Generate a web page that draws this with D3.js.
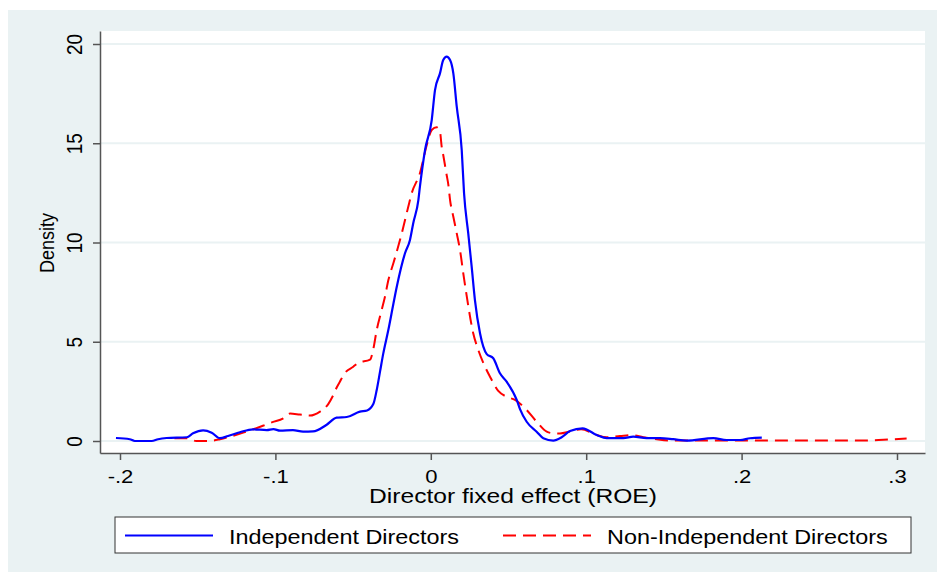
<!DOCTYPE html>
<html>
<head>
<meta charset="utf-8">
<script src="https://cdn.jsdelivr.net/npm/d3@7"></script>
<style>
  body { margin: 0; background: #fff; }
  text { font-family: "Liberation Sans", Arial, sans-serif; fill: #000; }
</style>
</head>
<body>
<div id="graf"></div>
<script>
// datos: [efecto fijo, densidad]
const independientes = [
  [-0.2026,0.15],[-0.1937,0.09],[-0.1905,0],[-0.1796,0],[-0.1755,0.09],[-0.170,0.15],
  [-0.157,0.19],[-0.153,0.39],[-0.1465,0.54],[-0.141,0.42],[-0.1357,0.14],[-0.1305,0.25],
  [-0.1228,0.44],[-0.1144,0.59],[-0.1056,0.55],[-0.1013,0.60],[-0.097,0.52],[-0.0887,0.55],
  [-0.0822,0.47],[-0.0758,0.48],[-0.067,0.82],[-0.0606,1.18],[-0.0541,1.21],[-0.0456,1.48],
  [-0.041,1.54],[-0.037,1.86],[-0.0348,2.57],[-0.0327,3.48],[-0.0306,4.4],[-0.0273,5.6],
  [-0.0241,6.9],[-0.0219,7.77],[-0.0166,9.46],[-0.0134,10.13],[-0.0113,10.97],[-0.008,12.14],
  [-0.007,12.81],[-0.0037,14.66],[0.0006,16.17],[0.0027,17.68],[0.0059,18.52],[0.008,19.19],
  [0.0102,19.36],[0.0124,19.19],[0.0145,18.52],[0.0167,16.84],[0.0199,14.66],[0.0214,12.48],
  [0.0241,10.46],[0.0263,8.78],[0.0284,7.1],[0.0317,5.42],[0.036,4.38],[0.0402,4.17],
  [0.0445,3.41],[0.0488,2.99],[0.0553,2.07],[0.0574,1.61],[0.0617,0.97],[0.0681,0.47],
  [0.0724,0.14],[0.0788,0.02],[0.0842,0.19],[0.0896,0.50],[0.0977,0.64],[0.1068,0.30],
  [0.1132,0.14],[0.1239,0.14],[0.1303,0.22],[0.1389,0.14],[0.1475,0.14],[0.156,0.09],
  [0.1647,0.02],[0.1818,0.14],[0.1904,0.05],[0.199,0.05],[0.2054,0.14],[0.213,0.17]
]

const noIndependientes = [
  [-0.165,0.14],[-0.157,0.14],[-0.151,0],[-0.144,0],[-0.140,0.02],[-0.1357,0.09],
  [-0.1292,0.22],[-0.1207,0.42],[-0.1142,0.59],[-0.1019,0.95],[-0.0949,1.14],[-0.0906,1.38],
  [-0.0842,1.33],[-0.0778,1.28],[-0.0713,1.48],[-0.066,1.86],[-0.0627,2.32],[-0.0604,2.72],
  [-0.0585,2.99],[-0.0552,3.43],[-0.0499,3.74],[-0.0468,3.93],[-0.0391,4.10],[-0.037,4.63],
  [-0.0348,5.59],[-0.0316,6.60],[-0.0295,7.27],[-0.0273,8.11],[-0.0241,8.95],[-0.0187,10.46],
  [-0.0145,11.80],[-0.0123,12.48],[-0.007,13.49],[-0.0026,14.91],[0.0006,15.67],[0.0038,15.80],
  [0.0059,15.58],[0.007,14.83],[0.008,14.41],[0.0102,13.40],[0.0113,12.90],[0.0124,12.14],
  [0.0145,11.30],[0.0167,10.46],[0.0188,9.62],[0.0209,8.45],[0.023,7.36],[0.0273,5.43],
  [0.0306,4.58],[0.0349,3.74],[0.0381,3.24],[0.0434,2.52],[0.0488,2.23],[0.0542,2.07],
  [0.0617,1.56],[0.0681,0.97],[0.0746,0.47],[0.0788,0.39],[0.0831,0.38],[0.0896,0.48],
  [0.0967,0.59],[0.1068,0.30],[0.1132,0.19],[0.1217,0.25],[0.1293,0.30],[0.1367,0.19],
  [0.1454,0.09],[0.156,0.02],[0.2,0.02],[0.25,0.02],[0.2805,0.02],[0.2976,0.09],[0.3062,0.12]
]

const yTicks = [0, 5, 10, 15, 20]
const xTicks = [-0.2, -0.1, 0, 0.1, 0.2, 0.3]
const xTickLabels = ["-.2", "-.1", "0", ".1", ".2", ".3"]
const leyenda = ["Independent Directors", "Non-Independent Directors"]

// dimensiones
const anchoTotal = 937
const altoTotal = 572
const margins = { top: 31, right: 12, bottom: 119, left: 100 }
const ancho = anchoTotal - margins.left - margins.right
const alto = altoTotal - margins.top - margins.bottom
const estirar = 1.16   // el original esta estirado en horizontal

const svg = d3.select("#graf")
  .append("svg")
  .attr("width", anchoTotal)
  .attr("height", altoTotal)

// fondo del grafico
svg.append("rect")
  .attr("x", 8).attr("y", 10)
  .attr("width", anchoTotal - 8).attr("height", altoTotal - 10)
  .attr("fill", "#eaf2f3")

svg.append("rect")
  .attr("x", margins.left).attr("y", margins.top)
  .attr("width", ancho).attr("height", alto)
  .attr("fill", "#fff")

const g = svg.append("g")
  .attr("transform", `translate(${margins.left}, ${margins.top})`)

// escaladores
const x = d3.scaleLinear()
  .domain([-0.21287, 0.31802])
  .range([0, ancho])

const y = d3.scaleLinear()
  .domain([-0.6045, 20.655])
  .range([alto, 0])

// lineas de rejilla
g.selectAll(".grid")
  .data(yTicks)
  .enter()
  .append("line")
  .attr("x1", 0).attr("x2", ancho)
  .attr("y1", d => y(d)).attr("y2", d => y(d))
  .attr("stroke", "#eaf2f3")
  .attr("stroke-width", 2)

// ejes
const yAxisGroup = g.append("g")
  .call(d3.axisLeft(y).tickValues(yTicks).tickSize(7).tickSizeOuter(0))
yAxisGroup.selectAll("text")
  .attr("x", null).attr("dy", null)
  .attr("transform", `translate(-18,0) scale(${estirar},1) rotate(-90)`)
  .attr("text-anchor", "middle")
  .style("font-size", "19px")

const xAxisGroup = g.append("g")
  .attr("transform", `translate(0, ${alto})`)
  .call(d3.axisBottom(x).tickValues(xTicks).tickSize(7).tickSizeOuter(0)
    .tickFormat((d, i) => xTickLabels[i]))
xAxisGroup.selectAll("text")
  .attr("y", null).attr("dy", null)
  .attr("transform", `translate(0,30) scale(${estirar},1)`)
  .style("font-size", "19px")

svg.selectAll(".domain, .tick line")
  .attr("stroke", "#555")
  .attr("stroke-width", 1.5)

// titulos de ejes
svg.append("text")
  .attr("transform", `translate(54, 243) scale(${estirar},1) rotate(-90)`)
  .attr("text-anchor", "middle")
  .style("font-size", "18px")
  .text("Density")

svg.append("text")
  .attr("transform", `translate(513, 503) scale(1.2,1)`)
  .attr("text-anchor", "middle")
  .style("font-size", "20.5px")
  .text("Director fixed effect (ROE)")

// curvas de densidad
const linea = d3.line()
  .x(d => x(d[0]))
  .y(d => y(d[1]))
  .curve(d3.curveMonotoneX)

g.append("path")
  .datum(noIndependientes)
  .attr("d", linea)
  .attr("fill", "none")
  .attr("stroke", "#ff0000")
  .attr("stroke-width", 2)
  .attr("stroke-dasharray", "13,7")

g.append("path")
  .datum(independientes)
  .attr("d", linea)
  .attr("fill", "none")
  .attr("stroke", "#0000ff")
  .attr("stroke-width", 2.2)

// leyenda
const ley = svg.append("g")
ley.append("rect")
  .attr("x", 115).attr("y", 517)
  .attr("width", 796).attr("height", 36)
  .attr("fill", "#fff")
  .attr("stroke", "#333")
  .attr("stroke-width", 1)

const items = [
  { x: 125, color: "#0000ff", dash: null },
  { x: 503, color: "#ff0000", dash: "13,7" }
]
items.forEach((it, i) => {
  ley.append("line")
    .attr("x1", it.x).attr("x2", it.x + 88)
    .attr("y1", 535.5).attr("y2", 535.5)
    .attr("stroke", it.color)
    .attr("stroke-width", 2)
    .attr("stroke-dasharray", it.dash)
  ley.append("text")
    .attr("transform", `translate(${it.x + 104}, 544) scale(1.2,1)`)
    .style("font-size", "19.5px")
    .text(leyenda[i])
})
</script>
</body>
</html>
